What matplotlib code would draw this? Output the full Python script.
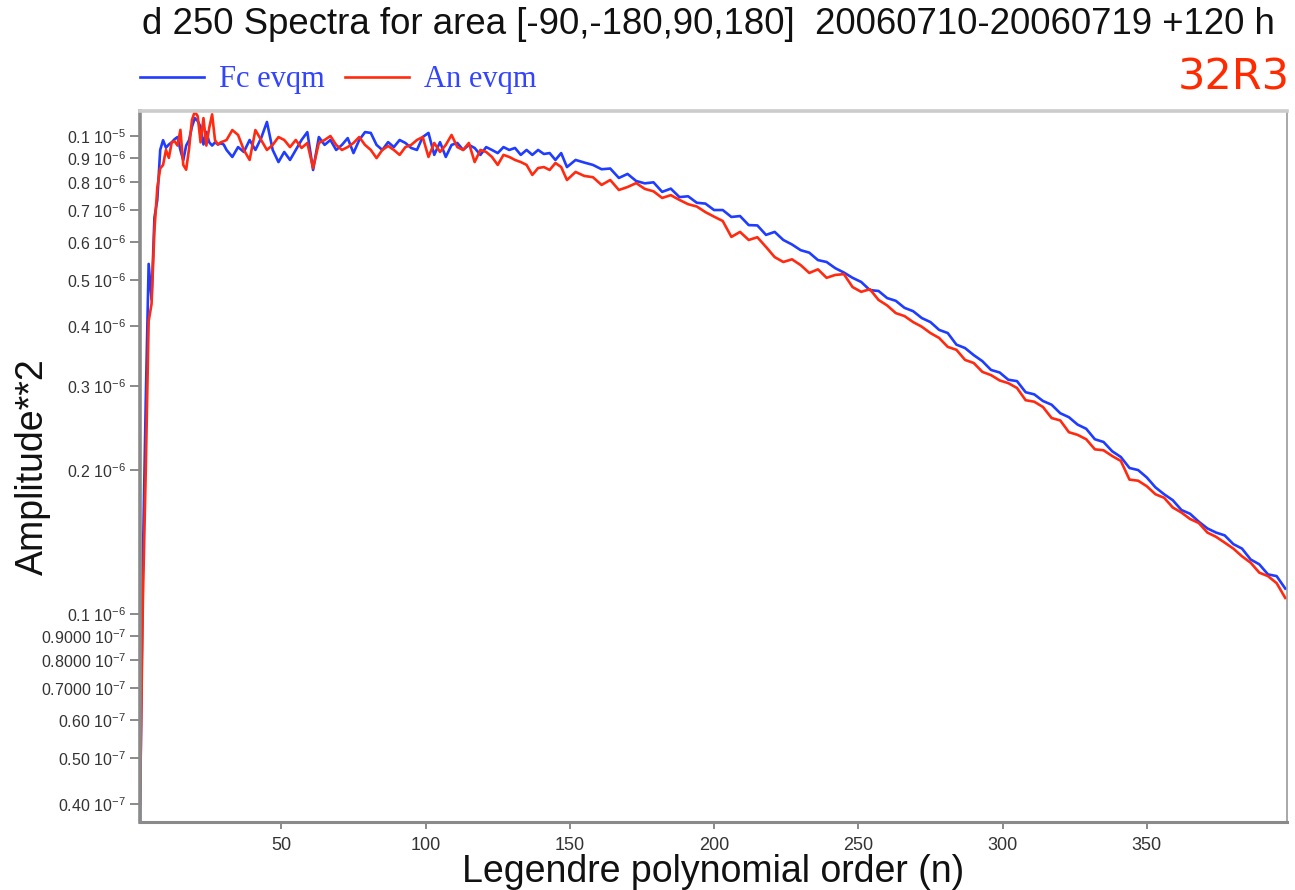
import matplotlib
matplotlib.use("Agg")
import matplotlib.pyplot as plt
from matplotlib.ticker import FixedLocator, FixedFormatter, NullLocator
from matplotlib.lines import Line2D

plt.rcParams['mathtext.default'] = 'regular'

# ---- data (amplitude**2 in units of 1e-7) ----
n_order = list(range(1, 31)) + list(range(31, 150, 2)) + list(range(152, 399, 3))

fc_evqm = [0.37, 1.30, 2.80, 5.40, 4.55, 6.75, 7.35, 9.35, 9.80, 9.45,
           9.60, 9.70, 9.85, 9.95, 9.35, 8.90, 9.55, 9.80, 10.45, 10.90,
           10.75, 10.45, 9.60, 10.20, 9.70, 9.55, 9.70, 9.60, 9.65, 9.60,
           # n = 31 .. 149 step 2
           9.35, 9.04, 9.48, 9.26, 9.81, 9.35, 9.90, 10.70, 9.35, 8.82,
           9.26, 8.91, 9.35, 9.81, 10.19, 8.49, 9.95, 9.58, 9.81, 9.35,
           9.58, 9.90, 9.21, 9.81, 10.19, 10.15, 9.58, 9.35, 9.71, 9.48,
           9.81, 9.67, 9.44, 9.35, 9.95, 10.15, 9.13, 9.71, 9.04, 9.58,
           9.67, 9.35, 9.58, 9.44, 9.13, 9.48, 9.35, 9.21, 9.48, 9.35,
           9.44, 9.13, 9.35, 9.13, 9.35, 9.17, 9.21, 8.91, 9.21, 8.61,
           # n = 152 .. 398 step 3
           8.91, 8.80, 8.70, 8.52, 8.55, 8.17, 8.33, 8.05, 7.96, 8.00,
           7.64, 7.76, 7.45, 7.48, 7.25, 7.22, 7.00, 7.00, 6.77, 6.80,
           6.51, 6.50, 6.21, 6.30, 6.06, 5.93, 5.77, 5.70, 5.50, 5.45,
           5.29, 5.18, 5.05, 4.95, 4.76, 4.74, 4.58, 4.52, 4.37, 4.30,
           4.16, 4.08, 3.93, 3.87, 3.66, 3.60, 3.48, 3.38, 3.24, 3.20,
           3.09, 3.07, 2.91, 2.88, 2.79, 2.74, 2.63, 2.58, 2.49, 2.44,
           2.32, 2.29, 2.19, 2.13, 2.02, 2.00, 1.93, 1.84, 1.78, 1.73,
           1.65, 1.62, 1.56, 1.51, 1.48, 1.46, 1.40, 1.37, 1.30, 1.27,
           1.21, 1.20, 1.13]

an_evqm = [0.40, 1.07, 2.00, 4.10, 4.45, 6.35, 7.80, 8.55, 8.70, 9.35,
           9.00, 9.70, 9.75, 9.55, 10.30, 8.70, 8.50, 9.40, 10.80, 11.25,
           11.00, 9.70, 10.90, 9.55, 10.40, 11.10, 9.80, 9.60, 9.70, 9.75,
           # n = 31 .. 149 step 2
           9.81, 10.29, 10.05, 9.35, 8.91, 10.29, 9.81, 9.35, 9.58, 9.95,
           9.81, 9.48, 9.81, 9.44, 9.67, 8.57, 9.67, 9.81, 10.00, 9.58,
           9.35, 9.48, 9.67, 9.95, 9.58, 9.35, 8.99, 9.35, 9.53, 9.35,
           9.13, 9.48, 9.58, 9.81, 9.95, 9.04, 9.67, 9.26, 9.58, 10.05,
           9.48, 9.35, 9.67, 8.82, 9.35, 9.26, 9.04, 8.70, 9.13, 9.04,
           8.91, 8.82, 8.70, 8.29, 8.57, 8.61, 8.49, 8.78, 8.61, 8.09,
           # n = 152 .. 398 step 3
           8.41, 8.25, 8.20, 7.90, 8.09, 7.71, 7.82, 7.97, 7.75, 7.66,
           7.42, 7.52, 7.35, 7.20, 7.12, 6.93, 6.78, 6.64, 6.15, 6.30,
           6.06, 6.14, 5.86, 5.58, 5.45, 5.52, 5.37, 5.17, 5.26, 5.05,
           5.12, 5.14, 4.83, 4.72, 4.78, 4.54, 4.42, 4.26, 4.20, 4.08,
           3.99, 3.87, 3.78, 3.62, 3.57, 3.40, 3.35, 3.21, 3.16, 3.08,
           3.04, 2.97, 2.80, 2.78, 2.71, 2.57, 2.54, 2.40, 2.37, 2.32,
           2.21, 2.20, 2.14, 2.09, 1.91, 1.90, 1.85, 1.78, 1.75, 1.67,
           1.63, 1.58, 1.55, 1.48, 1.45, 1.41, 1.37, 1.32, 1.28, 1.22,
           1.20, 1.16, 1.08]

series_labels = ["Fc evqm", "An evqm"]
y_tick_values = [1e-6, 9e-7, 8e-7, 7e-7, 6e-7, 5e-7, 4e-7, 3e-7, 2e-7,
                 1e-7, 9e-8, 8e-8, 7e-8, 6e-8, 5e-8, 4e-8]
y_tick_labels = [r"0.1 10$^{-5}$", r"0.9 10$^{-6}$", r"0.8 10$^{-6}$",
                 r"0.7 10$^{-6}$", r"0.6 10$^{-6}$", r"0.5 10$^{-6}$",
                 r"0.4 10$^{-6}$", r"0.3 10$^{-6}$", r"0.2 10$^{-6}$",
                 r"0.1 10$^{-6}$", r"0.9000 10$^{-7}$", r"0.8000 10$^{-7}$",
                 r"0.7000 10$^{-7}$", r"0.60 10$^{-7}$", r"0.50 10$^{-7}$",
                 r"0.40 10$^{-7}$"]
x_tick_values = [50, 100, 150, 200, 250, 300, 350]

title_text = "d 250 Spectra for area [-90,-180,90,180]  20060710-20060719 +120 h"
tag_text = "32R3"

# ---- figure ----
fig = plt.figure(figsize=(12.95, 8.90), dpi=100)
ax = fig.add_axes([140 / 1295, 1 - 822 / 890, (1287 - 140) / 1295, (822 - 111) / 890])

blue = "#1f3cff"
red = "#ff2a10"
scale = 1e-7
ax.plot(n_order, [v * scale for v in fc_evqm], color=blue, lw=1.9, solid_joinstyle='round')
ax.plot(n_order, [v * scale for v in an_evqm], color=red, lw=1.9, solid_joinstyle='round')

ax.set_yscale('log')
ax.set_xlim(1, 398.6)
ax.set_ylim(3.67e-8, 1.128e-6)
ax.yaxis.set_major_locator(FixedLocator(y_tick_values))
ax.yaxis.set_major_formatter(FixedFormatter(y_tick_labels))
ax.yaxis.set_minor_locator(NullLocator())
ax.xaxis.set_major_locator(FixedLocator(x_tick_values))
ax.xaxis.set_minor_locator(NullLocator())

ax.tick_params(axis='y', direction='out', length=7, width=1.2, color='#777777',
               labelsize=11.5, labelcolor='#333333', pad=3)
ax.tick_params(axis='x', direction='out', length=5, width=1.2, color='#777777',
               labelsize=13, labelcolor='#333333', pad=6)
for lab in ax.get_yticklabels() + ax.get_xticklabels():
    lab.set_family('Liberation Sans')

ax.spines['left'].set_color('#8a8a8a')
ax.spines['left'].set_linewidth(2.6)
ax.spines['bottom'].set_color('#8a8a8a')
ax.spines['bottom'].set_linewidth(2.2)
ax.spines['top'].set_color('#cccccc')
ax.spines['top'].set_linewidth(2.6)
ax.spines['right'].set_color('#999999')
ax.spines['right'].set_linewidth(1.2)

ax.set_xlabel("Legendre polynomial order (n)", fontsize=27, family='Liberation Sans',
              labelpad=0, color='#111111')
ax.set_ylabel("Amplitude**2", fontsize=27, family='Liberation Sans', color='#111111')
ax.yaxis.set_label_coords(-0.078, 0.5)

fig.text(1275 / 1295, 1 - 25 / 890, title_text, ha='right', va='center',
         fontsize=26.4, family='Liberation Sans', color='#111111')
fig.text(1290 / 1295, 1 - 77 / 890, tag_text, ha='right', va='center',
         fontsize=31, family='DejaVu Sans', color='#ff2a00')

handles = [Line2D([], [], color=blue, lw=1.9), Line2D([], [], color=red, lw=1.9)]
leg = fig.legend(handles, series_labels, loc='center left',
                 bbox_to_anchor=(140 / 1295, 1 - 80 / 890), ncol=2, frameon=False,
                 prop={'family': 'Liberation Serif', 'size': 22},
                 handlelength=2.1, handletextpad=0.5, columnspacing=0.65,
                 borderaxespad=0, borderpad=0)
for t in leg.get_texts():
    t.set_color('#3344ff')

fig.savefig("out.png", dpi=100)
